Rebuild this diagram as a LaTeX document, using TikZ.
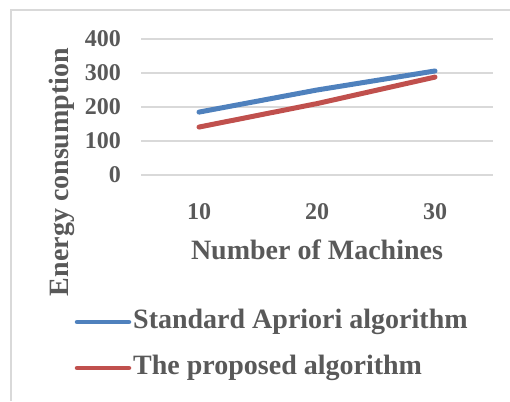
\documentclass[tikz,border=0pt]{standalone}
\usepackage{fontspec}
\setmainfont{Liberation Serif}
\usetikzlibrary{positioning}
\definecolor{txtgray}{HTML}{595959}
\definecolor{gridgray}{HTML}{D9D9D9}
\definecolor{serblue}{HTML}{4F81BD}
\definecolor{serred}{HTML}{C0504D}
\tikzset{
  gridline/.style={gridgray,line width=1.6pt},
  ticklabel/.style={text=txtgray,font=\fontsize{24}{24}\selectfont\bfseries,inner sep=0pt},
  axtitle/.style={text=txtgray,font=\fontsize{28}{28}\selectfont\bfseries,inner sep=0pt},
  series/.style={line width=5pt,line cap=round,line join=round}
}

\begin{document}
\begin{tikzpicture}[x=1pt,y=-1pt]
\useasboundingbox (0,0) rectangle (510,401);

% chart frame
\draw[gridgray,line width=1.3pt] (11,401) -- (11,10) -- (510,10);

% grid and value labels
\foreach \v/\lab in {0/0,100/100,200/200,300/300,400/400}{
  \draw[gridline] (141,175-0.34*\v) -- (493,175-0.34*\v);
  \node[ticklabel,anchor=east] (ylab\lab) at (121,175-0.34*\v) {\lab};
}

% category labels
\foreach \n in {10,20,30}
  \node[ticklabel] (xlab\n) at ({199+(\n-10)*11.8},212) {\n};

\node[axtitle] (xtitle) at (317,250) {Number of Machines};
\node[axtitle,rotate=90] (ytitle) at (62,172) {Energy consumption};

% data points
\coordinate (b10) at (199,175-0.34*185);
\coordinate (b20) at (317,175-0.34*250);
\coordinate (b30) at (435,175-0.34*306);
\coordinate (r10) at (199,175-0.34*141);
\coordinate (r20) at (317,175-0.34*210);
\coordinate (r30) at (435,175-0.34*288);

\draw[series,serblue] (b10) -- (b20) -- (b30);
\draw[series,serred] (r10) -- (r20) -- (r30);

% legend
\coordinate (kb) at (77,322);
\coordinate (kr) at (77,368);
\node[axtitle,anchor=west] (legb) at (133,322) {Standard Apriori algorithm};
\node[axtitle,anchor=west] (legr) at (133,368) {The proposed algorithm};
\draw[serblue,line width=4.5pt,line cap=round] (kb) -- ([xshift=-4pt]legb.west);
\draw[serred,line width=4.5pt,line cap=round] (kr) -- ([xshift=-4pt]legr.west);

\end{tikzpicture}
\end{document}
